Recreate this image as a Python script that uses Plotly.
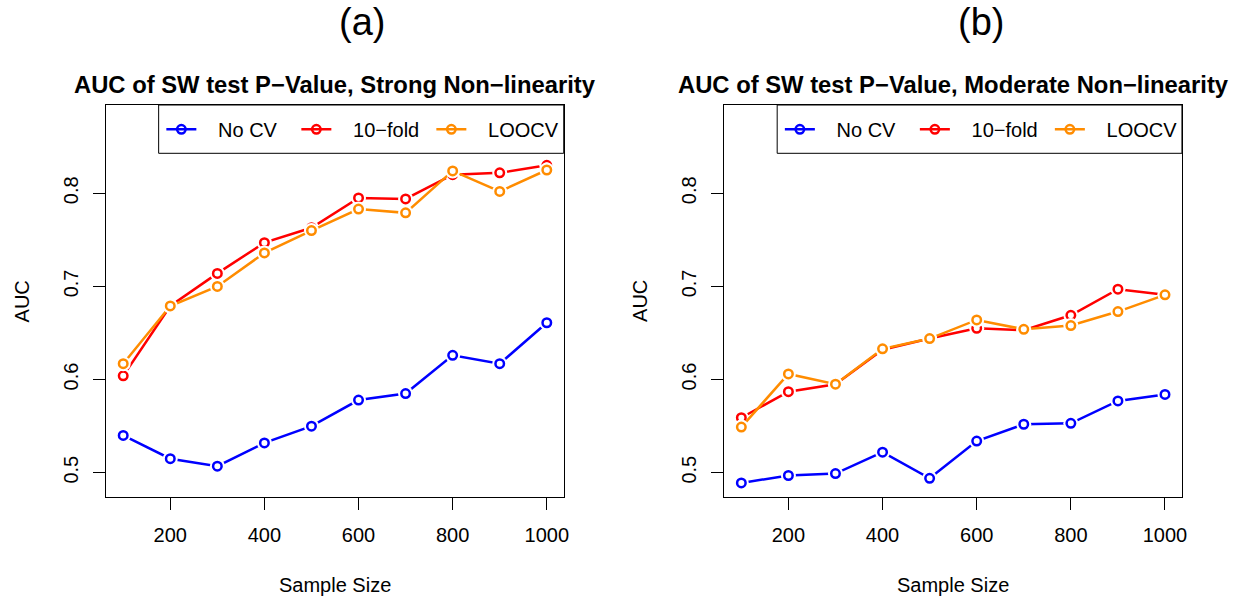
import plotly.graph_objects as go

sample_size = [100, 200, 300, 400, 500, 600, 700, 800, 900, 1000]

# Panel (a): Strong non-linearity
a_nocv = [0.540, 0.515, 0.507, 0.532, 0.550, 0.578, 0.585, 0.626, 0.617, 0.661]
a_tenfold = [0.604, 0.679, 0.714, 0.747, 0.763, 0.795, 0.794, 0.820, 0.822, 0.830]
a_loocv = [0.617, 0.679, 0.700, 0.736, 0.760, 0.783, 0.779, 0.824, 0.802, 0.825]

# Panel (b): Moderate non-linearity
b_nocv = [0.489, 0.497, 0.499, 0.522, 0.494, 0.534, 0.552, 0.553, 0.577, 0.584]
b_tenfold = [0.559, 0.587, 0.595, 0.632, 0.644, 0.655, 0.653, 0.669, 0.697, 0.691]
b_loocv = [0.549, 0.606, 0.595, 0.633, 0.644, 0.664, 0.654, 0.658, 0.673, 0.691]

series_names = ["No CV", "10\u2212fold", "LOOCV"]
series_colors = ["#0000FF", "#FF0000", "#FF8C00"]

panel_labels = ["(a)", "(b)"]
panel_titles = ["AUC of SW test P\u2212Value, Strong Non\u2212linearity",
                "AUC of SW test P\u2212Value, Moderate Non\u2212linearity"]
x_ticks = [200, 400, 600, 800, 1000]
y_ticks = [0.5, 0.6, 0.7, 0.8]
y_tick_text = ["0.5", "0.6", "0.7", "0.8"]

FONT = "Liberation Sans, Arial, Helvetica, sans-serif"
W, H = 1247, 603

fig = go.Figure()

panels = [(a_nocv, a_tenfold, a_loocv), (b_nocv, b_tenfold, b_loocv)]
for p, data in enumerate(panels):
    xa = "x" if p == 0 else "x2"
    ya = "y" if p == 0 else "y2"
    leg = "legend" if p == 0 else "legend2"
    for name, color, vals in zip(series_names, series_colors, data):
        fig.add_trace(go.Scatter(
            x=sample_size, y=vals, mode="lines+markers", name="\u00a0\u00a0\u00a0" + name,
            line=dict(color=color, width=2.5),
            marker=dict(symbol="circle-open", size=8.5, color=color, line=dict(width=2.5, color=color)),
            xaxis=xa, yaxis=ya, legend=leg, showlegend=True, hoverinfo="skip"))
        # white gap around points (R type="b" look)
        fig.add_trace(go.Scatter(
            x=sample_size, y=vals, mode="markers",
            marker=dict(symbol="circle", size=15, color="white", line=dict(width=0)),
            xaxis=xa, yaxis=ya, showlegend=False, hoverinfo="skip"))
        fig.add_trace(go.Scatter(
            x=sample_size, y=vals, mode="markers",
            marker=dict(symbol="circle-open", size=8.5, color=color, line=dict(width=2.5, color=color)),
            xaxis=xa, yaxis=ya, showlegend=False, hoverinfo="skip"))

dom_a = [106.7 / W, 566.0 / W]
dom_b = [727.3 / W, 1186.7 / W]
dom_y = [1 - 497.0 / H, 1 - 105.0 / H]

axis_common = dict(showline=True, mirror=True, linecolor="black", linewidth=1,
                   ticks="outside", ticklen=12, tickwidth=1, tickcolor="black",
                   showgrid=False, zeroline=False,
                   tickfont=dict(family=FONT, size=20, color="black"))

xr = [64, 1036]
yr = [0.4739, 0.8948]

leg_common = dict(orientation="h", xanchor="left", y=1 - 129.3 / H, yanchor="middle",
                  bgcolor="rgba(0,0,0,0)", borderwidth=0, font=dict(family=FONT, size=20, color="black"),
                  entrywidthmode="pixels", entrywidth=90, itemclick=False, itemdoubleclick=False)

fig.update_layout(
    width=W, height=H, margin=dict(l=0, r=0, t=0, b=0),
    paper_bgcolor="white", plot_bgcolor="white",
    font=dict(family=FONT, color="black"),
    xaxis=dict(domain=dom_a, range=xr, tickvals=x_ticks, ticklabelstandoff=8, anchor="y", **axis_common),
    yaxis=dict(domain=dom_y, range=yr, tickvals=y_ticks, ticktext=y_tick_text, tickangle=-90,
               ticklabelstandoff=7, anchor="x", **axis_common),
    xaxis2=dict(domain=dom_b, range=xr, tickvals=x_ticks, ticklabelstandoff=8, anchor="y2", **axis_common),
    yaxis2=dict(domain=dom_y, range=yr, tickvals=y_ticks, ticktext=y_tick_text, tickangle=-90,
                ticklabelstandoff=7, anchor="x2", **axis_common),
    legend=dict(x=162 / W, **leg_common),
    legend2=dict(x=783 / W, **leg_common),
    showlegend=True,
)

# legend boxes
for xr_, yr_, left in [("x domain", "y domain", 0.1145), ("x2 domain", "y2 domain", 0.1154)]:
    fig.add_shape(type="rect", xref=xr_, yref=yr_, x0=left, x1=1, y0=1 - 48.3 / 392, y1=1,
                  line=dict(color="black", width=1), fillcolor="rgba(0,0,0,0)", layer="above")

centers = [(dom_a[0] + dom_a[1]) / 2, (dom_b[0] + dom_b[1]) / 2]
label_x = [363 / W, 985 / W]
for i in range(2):
    fig.add_annotation(text=panel_labels[i], x=label_x[i], y=1 - 21.7 / H, xref="paper", yref="paper",
                       xanchor="center", yanchor="middle", showarrow=False,
                       font=dict(family=FONT, size=38, color="black"))
    fig.add_annotation(text="<b>" + panel_titles[i] + "</b>", x=centers[i], y=1 - 84.5 / H,
                       xref="paper", yref="paper", xanchor="center", yanchor="middle", showarrow=False,
                       font=dict(family=FONT, size=23.8, color="black"))
    fig.add_annotation(text="Sample Size", x=centers[i], y=1 - 585 / H, xref="paper", yref="paper",
                       xanchor="center", yanchor="middle", showarrow=False,
                       font=dict(family=FONT, size=20, color="black"))
    fig.add_annotation(text="AUC", x=(22.5 + 620 * i) / W, y=1 - 301 / H, xref="paper", yref="paper",
                       xanchor="center", yanchor="middle", showarrow=False, textangle=-90,
                       font=dict(family=FONT, size=20, color="black"))

fig.write_html("out.html")
